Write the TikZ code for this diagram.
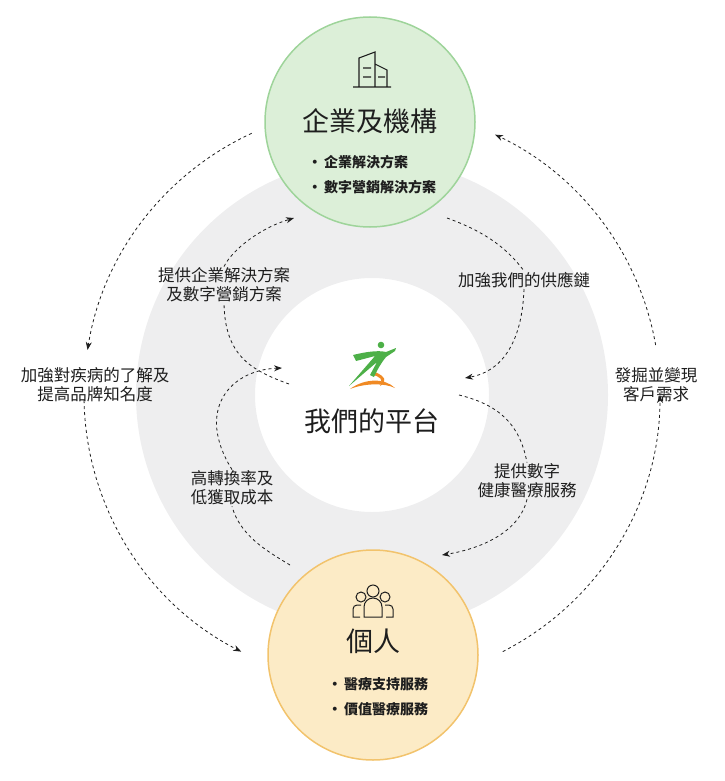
\documentclass[tikz,border=0pt]{standalone}
\usepackage{fontspec}
\setmainfont{Noto Sans CJK TC}
\usetikzlibrary{arrows.meta}
\definecolor{ringgray}{HTML}{EEEEEF}
\definecolor{topfill}{HTML}{DCEFD8}
\definecolor{topline}{HTML}{9ED49A}
\definecolor{botfill}{HTML}{FCEBC6}
\definecolor{botline}{HTML}{F2C36C}
\definecolor{logogreen}{HTML}{4DB048}
\definecolor{logoorange}{HTML}{F08A24}
\definecolor{ink}{HTML}{1E1E1E}
\begin{document}
\begin{tikzpicture}[x=1pt,y=1pt]
\tikzset{
  flow/.style={dashed,line width=0.8pt,ink,-{Stealth[length=8pt,width=6pt]}},
  flowline/.style={dashed,line width=0.8pt,ink},
  lab/.style={align=center,font=\fontsize{16.5}{19}\selectfont,text=ink,inner sep=1pt},
  big/.style={font=\fontsize{27}{30}\selectfont,text=ink},
  item/.style={align=left,font=\fontsize{14}{25}\selectfont\bfseries,text=ink},
}
\useasboundingbox (0,0) rectangle (724,-781);
% ring
\fill[ringgray,even odd rule] (372,-395) circle (236) (372,-395) circle (117);
% outer arcs
\draw[flow] ([shift={(114.7:288)}]372,-395) arc (114.7:171:288);
\draw[flow] ([shift={(181:288)}]372,-395) arc (181:243:288);
\draw[flow] ([shift={(297:288)}]372,-395) arc (297:360:288);
\draw[flow] ([shift={(10:288)}]372,-395) arc (10:64.7:288);
\node[lab] (lleft) at (95,-385) {加強對疾病的了解及\\提高品牌知名度};
\node[lab] (lright) at (656,-385) {發掘並變現\\客戶需求};
% circles
\node[circle,draw=topline,fill=topfill,line width=1.5pt,minimum size=210pt] (org) at (370,-122) {};
\node[circle,draw=botline,fill=botfill,line width=1.5pt,minimum size=210pt] (ind) at (373,-655) {};
% building icon
\draw[ink,line width=1.1pt] (353,-87) -- (391,-87)
  (359,-87) -- (359,-58) -- (375,-52) -- (375,-87)
  (375,-64) -- (387,-70) -- (387,-87)
  (363,-68) -- (371,-68) (363,-77) -- (371,-77) (378,-77) -- (385,-77);
\node[big] (orgt) at (370,-121) {企業及機構};
\node[item] (orgi) at (372,-175) {·\,企業解決方案\\·\,數字營銷解決方案};
% people icon
\begin{scope}[ink,line width=1pt]
\draw (373,-591) circle (6);
\draw (361,-597) circle (5);
\draw (385,-597) circle (5);
\draw (364,-617) -- (364,-607) arc (180:0:9) -- (382,-617) -- cycle;
\draw (360,-617) -- (353,-617) -- (353,-609) arc (180:90:4) -- (361,-605);
\draw (386,-617) -- (393,-617) -- (393,-609) arc (0:90:4) -- (385,-605);
\end{scope}
\node[big] (indt) at (373,-641) {個人};
\node[item] (indi) at (378,-697) {·\,醫療支持服務\\·\,價值醫療服務};
% platform logo
\fill[logoorange] (350,-389) .. controls (365,-378) and (385,-378) .. (395,-388)
  .. controls (385,-383) and (365,-383) .. cycle;
\fill[logoorange] (375,-372) .. controls (385,-376) and (388,-382) .. (380,-386)
  .. controls (384,-380) and (380,-376) .. (372,-375) -- cycle;
\fill[logogreen] (349,-386) -- (375,-356) -- (356,-361) -- (353,-355)
  .. controls (365,-352) and (378,-350) .. (386,-352) -- (396,-348) -- (395,-351) -- (386,-357)
  .. controls (382,-362) and (378,-368) .. (374,-377) -- (370,-375) -- (377,-362) -- cycle;
\fill[logogreen] (381,-345) circle (3.3);
\node[big] (plat) at (372,-421) {我們的平台};
% inner flows
\node[lab] (l1) at (224,-285) {提供企業解決方案\\及數字營銷方案};
\node[lab] (l2) at (524,-280) {加強我們的供應鏈};
\node[lab] (l3) at (232,-488) {高轉換率及\\低獲取成本};
\node[lab] (l4) at (527,-481) {提供數字\\健康醫療服務};
\draw[flowline] (289,-384) .. controls (250,-370) and (225,-355) .. (l1.south);
\draw[flow] (l1.north) .. controls (232,-250) and (260,-228) .. (294,-218);
\draw[flowline] (447,-218) .. controls (480,-230) and (505,-245) .. (l2.north);
\draw[flow] (l2.south) .. controls (522,-345) and (500,-372) .. (465,-378);
\draw[flowline] (290,-565) .. controls (265,-550) and (240,-535) .. (l3.south);
\draw[flow] (l3.north) .. controls (195,-410) and (230,-370) .. (282,-368);
\draw[flowline] (459,-395) .. controls (500,-405) and (520,-425) .. (l4.north);
\draw[flow] (l4.south) .. controls (520,-530) and (485,-548) .. (442,-555);
\end{tikzpicture}
\end{document}
